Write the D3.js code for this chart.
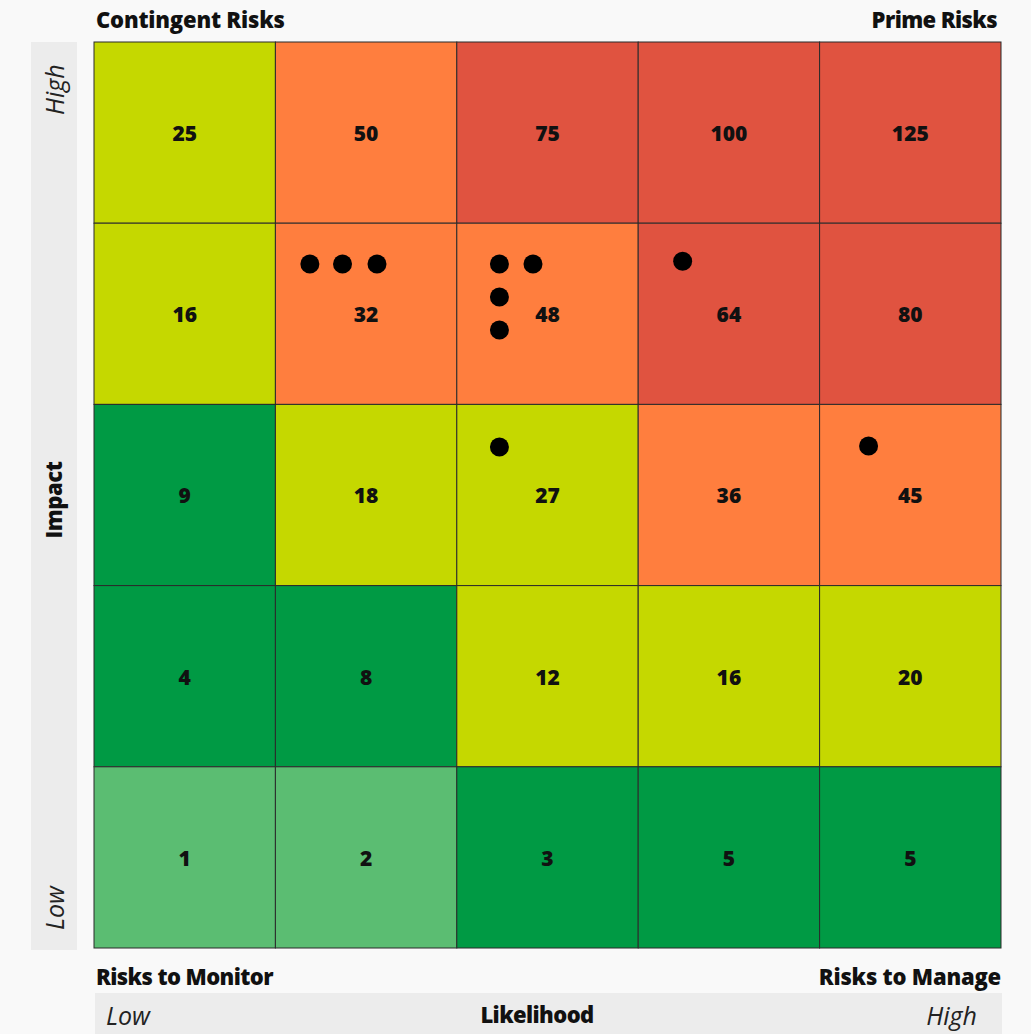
<!DOCTYPE html>
<html>
<head>
<meta charset="utf-8">
<script src="https://cdn.jsdelivr.net/npm/d3@7"></script>
<style>
  html, body { margin: 0; padding: 0; background: #f9f9f9; }
  svg { display: block; font-family: "Open Sans", Lato, sans-serif; }
</style>
</head>
<body>
<svg id="chart" width="1031" height="1034"></svg>
<script>
// Risk matrix: 5 likelihood columns x 5 impact rows (row 0 = top / highest impact)
const likelihoodLevels = [1, 2, 3, 4, 5];
const impactLevels = [5, 4, 3, 2, 1];

// Score printed in each cell, row by row from top
const cellScores = [
  [25, 50, 75, 100, 125],
  [16, 32, 48, 64, 80],
  [9, 18, 27, 36, 45],
  [4, 8, 12, 16, 20],
  [1, 2, 3, 5, 5]
];

// Rating band of each cell (0 = low ... 4 = critical)
const cellBands = [
  [2, 3, 4, 4, 4],
  [2, 3, 3, 4, 4],
  [1, 2, 2, 3, 3],
  [1, 1, 2, 2, 2],
  [0, 0, 1, 1, 1]
];
const bandColors = ["#5bbd72", "#009a44", "#c5d800", "#ff7e3e", "#e05340"];

// Individual risks placed on the continuous likelihood / impact plane (0–5)
const riskLikelihood = [1.19, 1.37, 1.56, 2.235, 2.42, 2.235, 2.235, 3.245, 2.235, 4.27];
const riskImpact     = [3.775, 3.775, 3.775, 3.775, 3.775, 3.593, 3.411, 3.79, 2.765, 2.77];

const cornerLabels = {
  topLeft: "Contingent Risks",
  topRight: "Prime Risks",
  bottomLeft: "Risks to Monitor",
  bottomRight: "Risks to Manage"
};

const svg = d3.select("#chart");
const gridLeft = 94, gridRight = 1001, gridTop = 42, gridBottom = 948;

const x = d3.scaleBand().domain(likelihoodLevels).range([gridLeft, gridRight]);
const y = d3.scaleBand().domain(impactLevels).range([gridTop, gridBottom]);
const xc = d3.scaleLinear().domain([0, 5]).range([gridLeft, gridRight]);
const yc = d3.scaleLinear().domain([0, 5]).range([gridBottom, gridTop]);

// Axis bands
svg.append("rect").attr("x", 31).attr("y", gridTop).attr("width", 46).attr("height", gridBottom - gridTop + 2)
  .attr("fill", "#ececec");
svg.append("rect").attr("x", 95).attr("y", 993).attr("width", 907).attr("height", 41)
  .attr("fill", "#ececec");

// Cells
const cells = [];
impactLevels.forEach((imp, r) => likelihoodLevels.forEach((lik, c) => {
  cells.push({ imp, lik, score: cellScores[r][c], band: cellBands[r][c] });
}));

const g = svg.append("g");
g.selectAll("rect.cell").data(cells).join("rect")
  .attr("class", "cell")
  .attr("x", d => x(d.lik)).attr("y", d => y(d.imp))
  .attr("width", x.bandwidth()).attr("height", y.bandwidth())
  .attr("fill", d => bandColors[d.band])
  .attr("stroke", "#2b2b2b").attr("stroke-width", 1);

g.selectAll("text.score").data(cells).join("text")
  .attr("class", "score")
  .attr("x", d => x(d.lik) + x.bandwidth() / 2)
  .attr("y", d => y(d.imp) + y.bandwidth() / 2)
  .attr("dy", "0.4em")
  .attr("text-anchor", "middle")
  .attr("font-size", 21).attr("font-weight", 800)
  .attr("fill", "#111")
  .text(d => d.score);

// Risk markers
svg.append("g").selectAll("circle").data(riskLikelihood.map((l, i) => [l, riskImpact[i]])).join("circle")
  .attr("cx", d => xc(d[0])).attr("cy", d => yc(d[1]))
  .attr("r", 9.5).attr("fill", "#000");

// Corner labels
const corner = (txt, xp, yp, anchor, ls) => svg.append("text")
  .attr("x", xp).attr("y", yp).attr("text-anchor", anchor)
  .attr("font-size", 22).attr("font-weight", 800).attr("letter-spacing", ls)
  .attr("fill", "#111").text(txt);
corner(cornerLabels.topLeft, 96, 28, "start", -0.2);
corner(cornerLabels.topRight, 997, 28, "end", -0.6);
corner(cornerLabels.bottomLeft, 96, 985, "start", -0.6);
corner(cornerLabels.bottomRight, 1001, 985, "end", -0.2);

// Likelihood axis
svg.append("text").attr("x", 106).attr("y", 1025).attr("font-size", 25).attr("font-style", "italic")
  .attr("font-weight", 400).attr("fill", "#222").text("Low");
svg.append("text").attr("x", 977).attr("y", 1025).attr("text-anchor", "end").attr("font-size", 25)
  .attr("font-style", "italic").attr("font-weight", 400).attr("fill", "#222").text("High");
svg.append("text").attr("x", 537).attr("y", 1023).attr("text-anchor", "middle").attr("font-size", 22)
  .attr("font-weight", 800).attr("letter-spacing", -0.6).attr("fill", "#111").text("Likelihood");

// Impact axis
const vText = (txt, cx, cy, anchor, opts) => {
  const t = svg.append("text")
    .attr("transform", `translate(${cx},${cy}) rotate(-90)`)
    .attr("text-anchor", anchor).attr("fill", opts.fill)
    .attr("font-size", opts.size).attr("font-weight", opts.weight)
    .text(txt);
  if (opts.italic) t.attr("font-style", "italic");
  if (opts.ls) t.attr("letter-spacing", opts.ls);
  return t;
};
vText("High", 64, 115, "start", { size: 25, weight: 400, italic: true, fill: "#222" });
vText("Low", 64, 930, "start", { size: 25, weight: 400, italic: true, fill: "#222" });
vText("Impact", 62, 500, "middle", { size: 22, weight: 800, fill: "#111", ls: -0.4 });
</script>
</body>
</html>
